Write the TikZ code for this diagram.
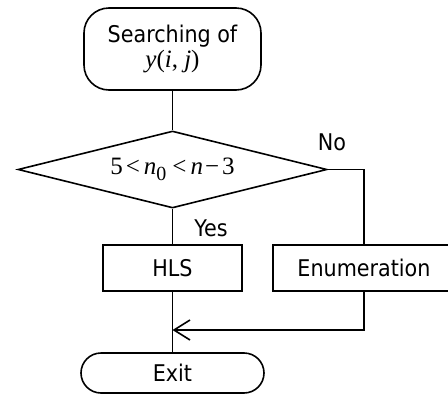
\documentclass[tikz,border=0pt]{standalone}
\usepackage{fontspec}
\setmainfont{DejaVu Sans Condensed}
\newfontfamily\tmfont{Liberation Serif}
\usetikzlibrary{shapes.geometric,arrows.meta}
\newcommand\mi[1]{{\tmfont\fontsize{25}{25}\selectfont\itshape #1}}
\newcommand\mr[1]{{\tmfont\fontsize{25}{25}\selectfont #1}}

\begin{document}
\begin{tikzpicture}[x=1pt,y=-1pt,line width=1.6pt,
  font=\fontsize{23}{25}\selectfont,
  term/.style={draw,rounded corners=#1,inner sep=0pt},
  term/.default=20pt,
  proc/.style={draw,minimum width=139pt,minimum height=46pt,inner sep=0pt},
  cond/.style={draw,diamond,aspect=4,minimum width=309pt,minimum height=77pt,inner sep=0pt}]
 \useasboundingbox (0,0) rectangle (448,394);
 \node[term=25pt,minimum width=177pt,minimum height=82pt,align=center] (start) at (172.5,49)
   {Searching of\\ \mi{y}\mr{(}\mi{i}\mr{,\ }\mi{j}\mr{)}};
 \node[cond] (test) at (172.5,169.5)
   {\mr{5\hspace{3pt}<\hspace{4pt}}\mi{n}\mr{\raisebox{-6pt}{\fontsize{20}{20}\selectfont 0}\hspace{6pt}<\hspace{4pt}}\mi{n}\mr{\hspace{2pt}−\hspace{3pt}3}\hspace{23pt}};
 \node[proc] (hls) at (172.5,268) {HLS};
 \node[proc,minimum width=182pt] (enum) at (364,268) {Enumeration};
 \node[term,minimum width=183pt,minimum height=40pt] (exit) at (172.5,373) {Exit};
 \node (no) at (332,142) {No};
 \node (yes) at (211,228) {Yes};
 \coordinate (join) at (172.5,330);
 \draw (start) -- (test);
 \draw (test.east) -| (enum.north);
 \draw (test) -- (hls);
 \draw (hls) -- (exit);
 \draw[-{Straight Barb[length=16pt,width=20pt]}] (enum.south) |- (join);
\end{tikzpicture}
\end{document}
